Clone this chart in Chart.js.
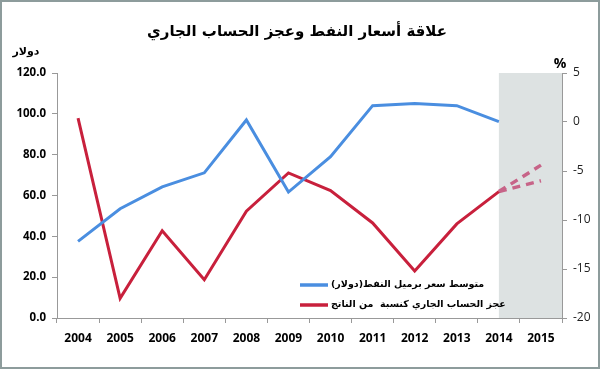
<!DOCTYPE html>
<html>
<head>
<meta charset="utf-8">
<script src="https://cdn.jsdelivr.net/npm/chart.js@4"></script>
<style>
  html, body { margin: 0; padding: 0; background: #fff; }
  #wrap { position: relative; width: 600px; height: 369px; box-sizing: border-box; border: 2px solid #8d9c9c; }
  canvas { position: absolute; left: -2px; top: -2px; }
</style>
</head>
<body>
<div id="wrap"><canvas id="chart" width="600" height="369"></canvas></div>
<script>
const years = ['2004', '2005', '2006', '2007', '2008', '2009', '2010', '2011', '2012', '2013', '2014', '2015'];
// متوسط سعر برميل النفط (دولار)
const oilPrice = [37.5, 53.5, 64.2, 71.1, 97.0, 61.7, 79.0, 104.0, 105.0, 104.0, 96.2, null];
// عجز الحساب الجاري كنسبة من الناتج (%)
const deficit = [0.4, -18.0, -11.1, -16.1, -9.1, -5.2, -7.0, -10.3, -15.2, -10.4, -7.1, null];
const forecastHigh = [null, null, null, null, null, null, null, null, null, null, -7.1, -4.4];
const forecastLow = [null, null, null, null, null, null, null, null, null, null, -7.1, -6.0];

const titleText = 'علاقة أسعار النفط وعجز الحساب الجاري';
const leftUnit = 'دولار';
const rightUnit = '%';
const legendOil = '\u200Fمتوسط سعر برميل النفط(دولار)\u200F';
const legendDeficit = 'عجز الحساب الجاري كنسبة  من الناتج';

const arFont = '"DejaVu Sans", sans-serif';
const numFont = '"Open Sans", "Liberation Sans", sans-serif';

const extras = {
    id: 'extras',
    beforeDatasetsDraw(chart) {
        const ctx = chart.ctx;
        const area = chart.chartArea;
        const x0 = chart.scales.x.getPixelForValue(10);
        ctx.save();
        ctx.fillStyle = '#dde2e2';
        ctx.fillRect(x0, area.top, area.right - x0, area.bottom - area.top);
        ctx.restore();
    },
    afterDraw(chart) {
        const ctx = chart.ctx;
        ctx.save();
        ctx.fillStyle = '#000';
        ctx.textAlign = 'center';
        ctx.textBaseline = 'middle';
        ctx.font = 'bold 15px ' + arFont;
        ctx.fillText(titleText, 297, 32);
        ctx.font = 'bold 11px ' + arFont;
        ctx.fillText(leftUnit, 26, 52);
        ctx.font = 'bold 14px ' + numFont;
        ctx.fillText(rightUnit, 560, 64);

        // legend
        const items = [
            { text: legendOil, color: '#4a8ee0', y: 285 },
            { text: legendDeficit, color: '#c8203c', y: 305 }
        ];
        ctx.font = 'bold 9.5px ' + arFont;
        ctx.textAlign = 'left';
        items.forEach(it => {
            ctx.strokeStyle = it.color;
            ctx.lineWidth = 3.5;
            ctx.beginPath();
            ctx.moveTo(300, it.y);
            ctx.lineTo(328, it.y);
            ctx.stroke();
            ctx.fillStyle = '#000';
            ctx.fillText(it.text, 331, it.y);
        });
        ctx.restore();
    }
};

new Chart(document.getElementById('chart'), {
    type: 'line',
    data: {
        labels: years,
        datasets: [
            { data: oilPrice, yAxisID: 'y', borderColor: '#4a8ee0', borderWidth: 3, pointRadius: 0, tension: 0 },
            { data: deficit, yAxisID: 'y1', borderColor: '#c8203c', borderWidth: 3, pointRadius: 0, tension: 0 },
            { data: forecastHigh, yAxisID: 'y1', borderColor: '#c76488', borderWidth: 3.5, borderDash: [8, 6], pointRadius: 0 },
            { data: forecastLow, yAxisID: 'y1', borderColor: '#c76488', borderWidth: 3.5, borderDash: [8, 6], pointRadius: 0 }
        ]
    },
    options: {
        responsive: false,
        animation: false,
        layout: { padding: { top: 73, left: 0, right: 0, bottom: 0 } },
        plugins: { legend: { display: false }, tooltip: { enabled: false } },
        scales: {
            x: {
                offset: true,
                grid: { offset: true, drawOnChartArea: false, tickLength: 5, color: '#999' },
                border: { color: '#999' },
                ticks: { color: '#000', font: { family: numFont, size: 12, weight: 'bold' }, padding: 8 },
                afterFit(s) { s.height = 51; }
            },
            y: {
                position: 'left',
                min: 0, max: 120,
                grid: { drawOnChartArea: false, tickLength: 5, color: '#999' },
                border: { color: '#999' },
                ticks: { stepSize: 20, color: '#000', padding: 6, font: { family: numFont, size: 11.5, weight: 'bold' },
                    callback: v => v.toFixed(1) },
                afterFit(s) { s.width = 57; }
            },
            y1: {
                position: 'right',
                min: -20, max: 5,
                grid: { drawOnChartArea: false, tickLength: 5, color: '#999' },
                border: { color: '#999' },
                ticks: { stepSize: 5, color: '#222', padding: 6, font: { family: numFont, size: 12 } },
                afterFit(s) { s.width = 38; }
            }
        }
    },
    plugins: [extras]
});
</script>
</body>
</html>
